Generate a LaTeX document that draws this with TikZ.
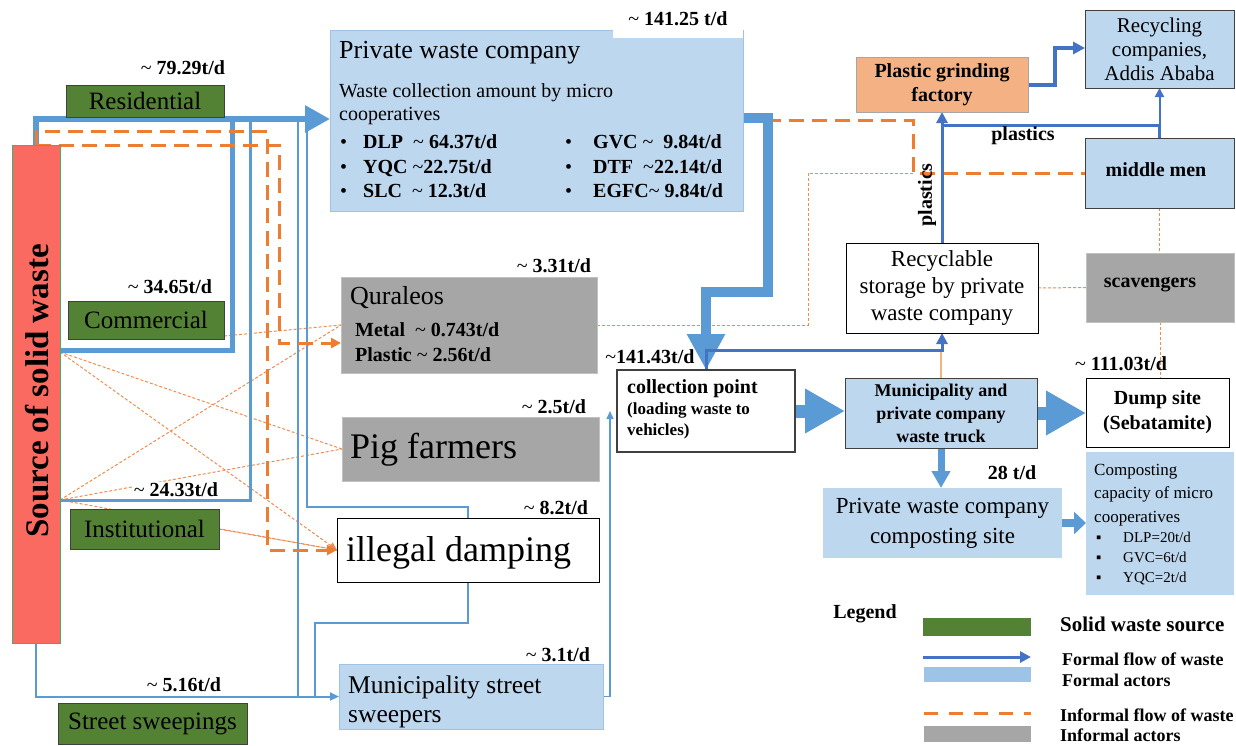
\documentclass[tikz,border=0pt]{standalone}
\usepackage{fontspec}
\setmainfont{Liberation Serif}
\usetikzlibrary{arrows.meta,calc}
\definecolor{bfill}{HTML}{BDD7EE}
\definecolor{bline}{HTML}{5B9BD5}
\definecolor{bdark}{HTML}{4472C4}
\definecolor{gfill}{HTML}{548235}
\definecolor{greyf}{HTML}{A6A6A6}
\definecolor{orng}{HTML}{ED7D31}
\definecolor{ofill}{HTML}{F4B183}
\definecolor{redf}{HTML}{FA6A60}
\definecolor{odot}{HTML}{F08C50}
\definecolor{bbar}{HTML}{9DC3E6}
\definecolor{srcedge}{HTML}{3CB371}
\newcommand{\tld}{{\mdseries\textasciitilde}}
\pgfdeclarelayer{bg}
\pgfsetlayers{bg,main}
\begin{document}
\begin{tikzpicture}[x=1pt,y=-1pt,
  bx/.style={rectangle, inner sep=0pt, outer sep=0pt},
  srcbx/.style={bx, fill=redf, draw=srcedge, line width=0.8pt},
  gbx/.style={bx, fill=gfill, draw=black!75, line width=0.8pt, font=\fontsize{25}{25}\selectfont},
  bbx/.style={bx, fill=bfill, draw=bbar, line width=0.6pt},
  bbxd/.style={bx, fill=bfill, draw=black!75, line width=1pt},
  greybx/.style={bx, fill=greyf, draw=greyf!70!white, line width=0.5pt},
  wbx/.style={bx, fill=white, draw=black, line width=1pt},
  facbx/.style={bx, fill=ofill, draw=greyf, line width=1pt},
  txt/.style={anchor=base west, inner sep=0pt},
  rate/.style={inner sep=1pt, font=\fontsize{20}{20}\selectfont\bfseries},
  dotl/.style={draw=odot, line width=1pt, dash pattern=on 3pt off 2pt},
  odash/.style={draw=orng, line width=3pt, dash pattern=on 15pt off 8pt},
  otip/.style={-{Triangle[width=10pt,length=10pt]}},
]
\useasboundingbox (0,0) rectangle (1236,745);

% ---------- boxes ----------
\node[srcbx, minimum width=48pt, minimum height=498pt] (src) at (36,394) {};
\node[rotate=90, inner sep=0pt, font=\fontsize{33}{33}\selectfont\bfseries] (srct) at (37,391) {Source of solid waste};

\node[gbx, minimum width=158pt, minimum height=32pt] (res) at (145,101) {Residential};
\node[gbx, minimum width=156pt, minimum height=38pt] (com) at (146,320) {Commercial};
\node[gbx, minimum width=149pt, minimum height=40pt] (inst) at (144.5,529) {Institutional};
\node[gbx, minimum width=189pt, minimum height=41pt] (street) at (152.5,723.5) {Street sweepings};

\node[bbx, minimum width=413pt, minimum height=181pt] (pwc) at (536.5,120.5) {};
\node[fill=white, inner sep=0pt, minimum width=130pt, minimum height=38pt, font=\fontsize{20}{20}\selectfont\bfseries] (r141) at (678,19) {\tld\ 141.25 t/d};
\node[txt, font=\fontsize{26}{26}\selectfont] (pwct) at (339,58) {Private waste company};
\node[txt, font=\fontsize{20}{20}\selectfont] (pwcs1) at (339,97) {Waste collection amount by micro};
\node[txt, font=\fontsize{20}{20}\selectfont] (pwcs2) at (339,120) {cooperatives};
\begin{scope}[every node/.append style={txt, font=\fontsize{20}{20}\selectfont\bfseries}]
\node (b1) at (340,148) {\mdseries •};
\node (b2) at (340,173) {\mdseries •};
\node (b3) at (340,197) {\mdseries •};
\node (b4) at (565,148) {\mdseries •};
\node (b5) at (565,173) {\mdseries •};
\node (b6) at (565,197) {\mdseries •};
\node (c1) at (363,148) {DLP\ \ \tld\ 64.37t/d};
\node (c2) at (363,173) {YQC \tld22.75t/d};
\node (c3) at (363,197) {SLC\ \ \tld\ 12.3t/d};
\node (c4) at (593,148) {GVC \tld\ \ 9.84t/d};
\node (c5) at (593,173) {DTF\ \ \tld22.14t/d};
\node (c6) at (593,197) {EGFC\tld\ 9.84t/d};
\end{scope}
\node[rate] (r79) at (183,68) {\tld\ 79.29t/d};
\node[rate] (r34) at (170,287) {\tld\ 34.65t/d};
\node[rate, fill=white] (r24) at (176,490) {\tld\ 24.33t/d};
\node[rate] (r5) at (184,685) {\tld\ 5.16t/d};

\node[greybx, minimum width=256pt, minimum height=96pt] (qur) at (469,325) {};
\node[txt, font=\fontsize{26}{26}\selectfont] (qurt) at (350,304) {Quraleos};
\node[txt, font=\fontsize{20}{20}\selectfont\bfseries] (qur1) at (355,336) {Metal\ \ \tld\ 0.743t/d};
\node[txt, font=\fontsize{20}{20}\selectfont\bfseries] (qur2) at (355,361) {Plastic \tld\ 2.56t/d};
\node[rate] (r3) at (554,266) {\tld\ 3.31t/d};

\node[greybx, minimum width=257pt, minimum height=64pt] (pig) at (470.5,449) {};
\node[txt, font=\fontsize{36}{36}\selectfont] (pigt) at (350,458) {Pig farmers};
\node[rate] (r25) at (554,407) {\tld\ 2.5t/d};

\node[wbx, minimum width=262pt, minimum height=64pt] (ill) at (468,550) {};
\node[txt, font=\fontsize{36}{36}\selectfont] (illt) at (346,561) {illegal damping};
\node[rate] (r8) at (556,508) {\tld\ 8.2t/d};

\node[bbx, minimum width=264pt, minimum height=65pt] (msw) at (471,696.5) {};
\node[txt, font=\fontsize{25.5}{25.5}\selectfont] (msw1) at (348,693) {Municipality street};
\node[txt, font=\fontsize{25.5}{25.5}\selectfont] (msw2) at (348,722) {sweepers};
\node[rate] (r31) at (558,655) {\tld\ 3.1t/d};

\node[bx, fill=white, draw=black!75, line width=1.3pt, minimum width=178pt, minimum height=82pt] (cp) at (706,411) {};
\node[txt, font=\fontsize{20}{20}\selectfont\bfseries] (cp1) at (627,393) {collection point};
\node[txt, font=\fontsize{17}{17}\selectfont\bfseries] (cp2) at (627,414) {(loading waste to};
\node[txt, font=\fontsize{17}{17}\selectfont\bfseries] (cp3) at (627,435) {vehicles)};
\node[rate] (r1414) at (650,357) {\tld141.43t/d};

\node[bbxd, minimum width=192pt, minimum height=70pt, align=center, font=\fontsize{18}{23}\selectfont\bfseries] (truck) at (941,413) {Municipality and\\private company\\waste truck};
\node[wbx, minimum width=143pt, minimum height=69pt, align=center, font=\fontsize{20}{25}\selectfont\bfseries] (dump) at (1157.5,412.5) {Dump site\\(Sebatamite)};
\node[rate] (r111) at (1121,364) {\tld\ 111.03t/d};

\node[wbx, minimum width=192pt, minimum height=90pt, align=center, font=\fontsize{23}{27}\selectfont] (stor) at (942,288) {Recyclable\\storage by private\\waste company};
\node[greybx, minimum width=148pt, minimum height=69pt] (scav) at (1160,287.5) {};
\node[inner sep=0pt, font=\fontsize{20}{20}\selectfont\bfseries] (scavt) at (1150,285) {scavengers};
\node[bbxd, minimum width=149pt, minimum height=70pt] (mid) at (1159.5,173) {};
\node[inner sep=0pt, font=\fontsize{20}{20}\selectfont\bfseries] (midt) at (1156,170) {middle men};
\node[bbxd, minimum width=149pt, minimum height=78pt, align=center, font=\fontsize{21}{24}\selectfont] (rec) at (1159.5,49) {Recycling\\companies,\\Addis Ababa};
\node[facbx, minimum width=172pt, minimum height=55pt, align=center, font=\fontsize{20}{24}\selectfont\bfseries] (fac) at (942,84.5) {Plastic grinding\\factory};
\node[inner sep=0pt, font=\fontsize{20}{20}\selectfont\bfseries] (pl1) at (1023,136) {plastics};
\node[rotate=90, inner sep=0pt, font=\fontsize{20}{20}\selectfont\bfseries] (pl2) at (927,195) {plastics};

\node[bx, fill=bfill, minimum width=239pt, minimum height=70pt, align=center, font=\fontsize{23}{30}\selectfont] (comp) at (942.5,523) {Private waste company\\composting site};
\node[rate] (r28) at (1012,473) {28 t/d};
\node[bx, fill=bfill, minimum width=148pt, minimum height=143pt] (cap) at (1160,523.5) {};
\begin{scope}[every node/.append style={txt}]
\node[font=\fontsize{17}{17}\selectfont] (cap1) at (1094,475) {Composting};
\node[font=\fontsize{17}{17}\selectfont] (cap2) at (1094,498) {capacity of micro};
\node[font=\fontsize{17}{17}\selectfont] (cap3) at (1094,522) {cooperatives};
\node[font=\fontsize{15}{15}\selectfont] (cap4) at (1096,542) {▪};
\node[font=\fontsize{15}{15}\selectfont] (cap5) at (1096,562) {▪};
\node[font=\fontsize{15}{15}\selectfont] (cap6) at (1096,582) {▪};
\node[font=\fontsize{15}{15}\selectfont] (cap7) at (1123,542) {DLP=20t/d};
\node[font=\fontsize{15}{15}\selectfont] (cap8) at (1123,562) {GVC=6t/d};
\node[font=\fontsize{15}{15}\selectfont] (cap9) at (1123,582) {YQC=2t/d};
\end{scope}

% ---------- legend ----------
\node[inner sep=0pt, font=\fontsize{20}{20}\selectfont\bfseries] (leg) at (865,614) {Legend};
\node[bx, fill=gfill, minimum width=108pt, minimum height=18pt] (lg1) at (977,627) {};
\coordinate (lga) at (923,657);
\coordinate (lgb) at (1031,657);
\node[bx, fill=bbar, minimum width=107pt, minimum height=15pt] (lg2) at (977.5,674.5) {};
\coordinate (lgc) at (924,713);
\coordinate (lgd) at (1031,713);
\node[bx, fill=greyf, minimum width=107pt, minimum height=16pt] (lg3) at (977.5,734) {};
\begin{scope}[every node/.append style={anchor=west, inner sep=0pt}]
\node[font=\fontsize{21}{21}\selectfont\bfseries] (lt1) at (1060,624) {Solid waste source};
\node[font=\fontsize{18}{18}\selectfont\bfseries] (lt2) at (1062,659) {Formal flow of waste};
\node[font=\fontsize{18}{18}\selectfont\bfseries] (lt3) at (1062,680) {Formal actors};
\node[font=\fontsize{18}{18}\selectfont\bfseries] (lt4) at (1060,715) {Informal flow of waste};
\node[font=\fontsize{18}{18}\selectfont\bfseries] (lt5) at (1060,735) {Informal actors};
\end{scope}

% ---------- connectors ----------
\begin{pgfonlayer}{bg}
% informal thin dotted
\draw[dotl] (qur.east) -- (808,325) |- (913,173);
\draw[dotl] (com.east |- 0,336) -- (qur.west);
\draw[dotl] (src.east |- 0,352) -- (pig.west);
\draw[dotl, -{Triangle[width=7pt,length=8pt]}] (src.east |- 0,352) -- (ill.west);
\draw[dotl] (src.east |- 0,500) -- (qur.west);
\draw[dotl] (src.east |- 0,500) -- (pig.west);
\draw[dotl] (src.east |- 0,500) -- (ill.west);
\draw[dotl, -{Triangle[width=7pt,length=8pt]}] (inst.east) -- (ill.west);
\draw[dotl] (stor.east) -- (scav.west);
\draw[dotl] (mid.south) -- (mid.south |- scav.north);
\draw[dotl] (scav.south) -- (scav.south |- dump.north);
\draw[ofill, line width=1.2pt] (truck.north) -- (truck.north |- 0,350);

% formal flows, left
\draw[bline, line width=1.5pt] (298,119) -- (298,697);
\draw[bline, line width=2pt] (307,119) -- (307,507) -| (ill.north);
\draw[bline, line width=2pt] (ill.south) |- (315,623) -- (315,697);
\draw[bline, line width=2pt, -{Triangle[width=8pt,length=9pt]}] (src.south) |- (msw.west);
\draw[bline, line width=1.5pt, -{Triangle[width=7pt,length=8pt]}] (msw.east) -| ([xshift=-7pt]cp.west);
\draw[bline, line width=3pt] (src.east |- 0,500) -| (250,119);
\draw[bline, line width=5pt] (src.east |- 0,350) -| (232,119);
\draw[bline, line width=6pt, -{Triangle[width=26pt,length=25pt]}] (src.north) |- (pwc.west |- 0,119);

% informal thick dashed
\draw[odash, otip] (src.north) |- (267,131) |- (ill.west);
\draw[odash, otip] (src.north) -- (279,145) |- (qur.west |- 0,343);
\draw[odash] (pwc.east |- 0,120) -- (913,120) |- (mid.west);

% formal flows, right
\draw[bline, line width=10pt, -{Triangle[width=36pt,length=36pt]}] (pwc.east |- 0,118) -| (768,292) -| (cp.north);
\draw[bline, line width=13pt, -{Triangle[width=42pt,length=40pt]}] (cp.east) -- (cp.east -| truck.west);
\draw[bline, line width=13pt, -{Triangle[width=42pt,length=40pt]}] (truck.east) -- (truck.east -| dump.west);
\draw[bline, line width=7pt, -{Triangle[width=18pt,length=17pt]}] (truck.south) -- (truck.south |- comp.north);
\draw[bline, line width=8pt, -{Triangle[width=22pt,length=12pt]}] (comp.east) -- (comp.east -| cap.west);
\draw[bdark, line width=3pt, -{Triangle[width=11pt,length=11pt]}] (cp.north) |- (stor.south |- 0,350) -- (stor.south);
\draw[bdark, line width=3pt, -{Triangle[width=11pt,length=11pt]}] (stor.north) -- (stor.north |- fac.south);
\draw[bdark, line width=2pt, -{Triangle[width=9pt,length=9pt]}] (mid.north) -- (mid.north |- rec.south);
\draw[bdark, line width=3pt] (mid.north) |- (stor.north |- 0,125);
\draw[bdark, line width=4pt, -{Triangle[width=12pt,length=12pt]}] (fac.east) -- (fac.east -| 1055,0) |- (rec.west |- 0,48);

% legend lines
\draw[bdark, line width=3pt, -{Triangle[width=11pt,length=11pt]}] (lga) -- (lgb);
\draw[orng, line width=3pt, dash pattern=on 14pt off 11pt] (lgc) -- (lgd);
\end{pgfonlayer}
\end{tikzpicture}
\end{document}
